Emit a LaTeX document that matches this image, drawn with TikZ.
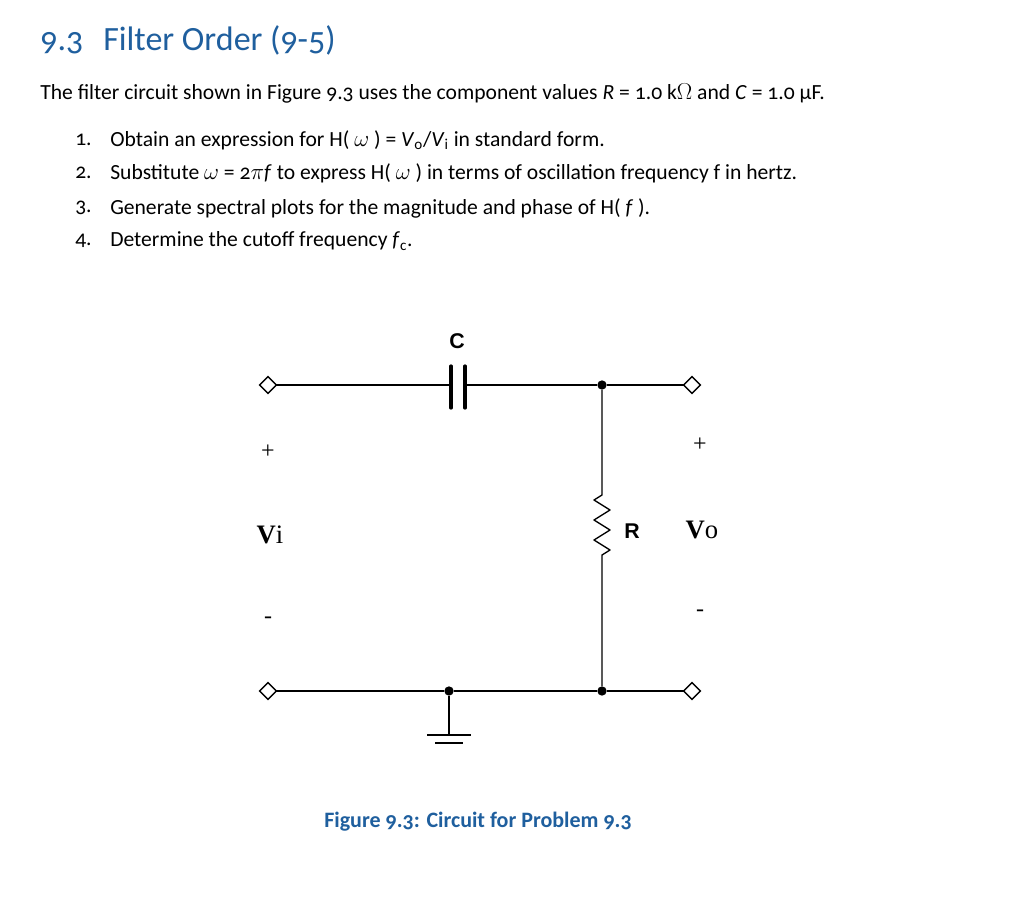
\documentclass[tikz,border=0pt]{standalone}
\usepackage{fontspec}
\setmainfont{Carlito}[Numbers=OldStyle]
\newfontfamily\circsans{Liberation Sans}
\newfontfamily\circserif{Liberation Serif}
\usetikzlibrary{shapes.geometric}
\definecolor{hblue}{HTML}{1F5F9E}
\begin{document}
\begin{tikzpicture}[x=0.75pt,y=-0.75pt,
  txt/.style={anchor=west,inner sep=0pt,font=\fontsize{16.2}{19}\selectfont},
  term/.style={diamond,draw,fill=white,minimum size=13pt,inner sep=0pt,line width=1pt},
  dot/.style={circle,fill,inner sep=0pt,minimum size=7pt},
  wire/.style={line width=1pt},
  lbl/.style={font=\circsans\bfseries\fontsize{16}{18}\selectfont},
  sgn/.style={font=\circserif\fontsize{18}{20}\selectfont}]
\useasboundingbox (0,0) rectangle (1024,899);
\node[anchor=west,inner sep=0pt,text=hblue,font=\fontsize{25.5}{30}\selectfont] (title) at (40,40) {9.3\hspace{15pt}Filter Order (9-5)};
\node[txt] (intro) at (40,93) {The filter circuit shown in Figure 9.3 uses the component values \textit{R} = 1.0 k$\Omega$ and \textit{C} = 1.0 µF.};
\node[txt] (n1) at (75,140) {1.};
\node[txt] (t1) at (110,140) {Obtain an expression for H( $\omega$ ) = \textit{V}\textsubscript{o}/\textit{V}\textsubscript{i} in standard form.};
\node[txt] (n2) at (75,173) {2.};
\node[txt] (t2) at (110,173) {Substitute $\omega$ = 2$\pi$\textit{f} to express H( $\omega$ ) in terms of oscillation frequency f in hertz.};
\node[txt] (n3) at (75,208) {3.};
\node[txt] (t3) at (110,208) {Generate spectral plots for the magnitude and phase of H( \textit{f} ).};
\node[txt] (n4) at (75,241) {4.};
\node[txt] (t4) at (110,241) {Determine the cutoff frequency \textit{f}\textsubscript{c}.};
% circuit
\coordinate (cl) at (451,385);
\coordinate (cr) at (465,385);
\node[dot] (ntop) at (602,385) {};
\node[dot] (nbot) at (602,691) {};
\node[dot] (ngnd) at (449,691) {};
\coordinate (rt) at (602,495);
\coordinate (rb) at (602,563);
\coordinate (g) at (449,735);
\draw[wire] (cl) -- (268,385);
\draw[wire] (cr) -- (ntop) -- (692,385);
\draw[line width=2.4pt,line cap=round] (451,366) -- (451,408) (465,366) -- (465,408);
\draw[wire,line join=round] (ntop) -- (rt) -- ++(-8,5) -- ++(16,10) -- ++(-16,10) -- ++(16,10) -- ++(-16,10) -- ++(16,10) -- ++(-8,5) -- (rb) -- (nbot);
\draw[wire] (268,691) -- (ngnd) -- (nbot) -- (692,691);
\draw[wire] (ngnd) -- (g);
\draw[wire] (427,735) -- (471,735) (435,743) -- (463,743);
\node[term] (ti) at (268,385) {};
\node[term] (to) at (692,385) {};
\node[term] (bi) at (268,691) {};
\node[term] (bo) at (692,691) {};
\node[lbl] (Cl) at (457,341) {C};
\node[lbl] (Rl) at (632,531) {R};
\node[sgn] (pi) at (268,452) {+};
\node[sgn] (pv) at (700,445) {+};
\node[sgn] (mi) at (268,620) {-};
\node[sgn] (mv) at (700,613) {-};
\node[sgn,font=\circserif\fontsize{20}{22}\selectfont] (Vi) at (270,535) {\textbf{V}i};
\node[sgn,font=\circserif\fontsize{20}{22}\selectfont] (Vo) at (702,530) {\textbf{V}o};
\node[inner sep=0pt,text=hblue,font=\bfseries\fontsize{16.5}{19}\selectfont] (cap) at (478,822) {Figure 9.3: Circuit for Problem 9.3};
\end{tikzpicture}
\end{document}
